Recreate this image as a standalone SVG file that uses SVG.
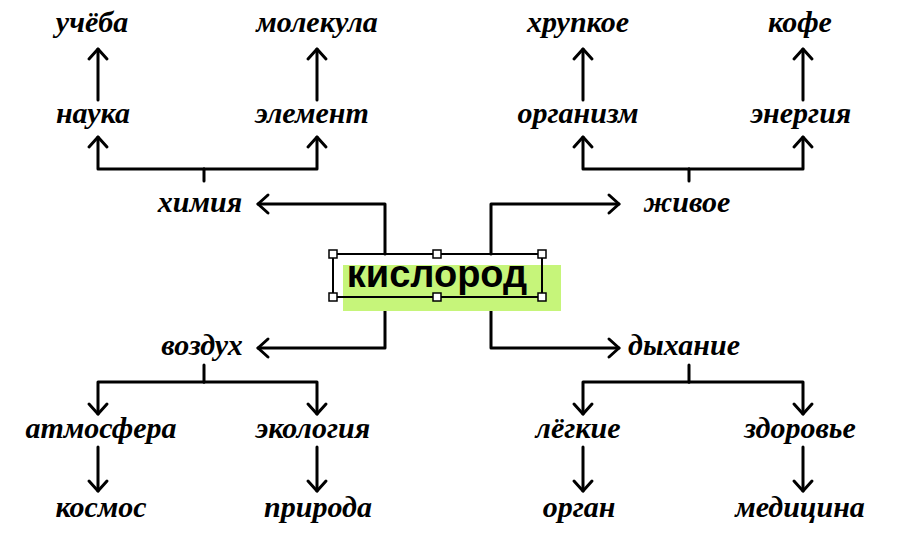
<svg xmlns="http://www.w3.org/2000/svg" width="900" height="552" viewBox="0 0 900 552">
<defs>
<marker id="ah" markerUnits="userSpaceOnUse" markerWidth="24" markerHeight="24" refX="0" refY="0" viewBox="-14 -12 16 24" orient="auto" overflow="visible">
<path d="M-10,-9 L0,0 L-10,9" fill="none" stroke="#000" stroke-width="3" stroke-linecap="round" stroke-linejoin="round"/>
</marker>
<style>
.lbl{font-family:"Liberation Serif","Times New Roman",serif;font-style:italic;font-weight:bold;font-size:30px;fill:#000;text-anchor:middle}
.c{fill:none;stroke:#000;stroke-width:3;stroke-linejoin:round;stroke-linecap:round}
.a{marker-end:url(#ah)}
.h{fill:#fff;stroke:#000;stroke-width:1.5}
</style>
</defs>
<rect width="900" height="552" fill="#fff"/>
<g id="connectors">
<path class="c a" d="M385,254 V204 H258"/>
<path class="c a" d="M491,254 V204 H619"/>
<path class="c a" d="M385,297 V348 H258"/>
<path class="c a" d="M491,297 V348 H619"/>
<path class="c" d="M204,181 V169"/>
<path class="c a" d="M204,169 H98 V137"/>
<path class="c a" d="M204,169 H317 V137"/>
<path class="c a" d="M98,100 V49"/>
<path class="c a" d="M317,100 V49"/>
<path class="c" d="M689,181 V169"/>
<path class="c a" d="M689,169 H583 V137"/>
<path class="c a" d="M689,169 H803 V137"/>
<path class="c a" d="M583,100 V49"/>
<path class="c a" d="M803,100 V49"/>
<path class="c" d="M204,365 V382"/>
<path class="c a" d="M204,382 H98 V414"/>
<path class="c a" d="M204,382 H317 V414"/>
<path class="c a" d="M98,447 V491"/>
<path class="c a" d="M317,447 V491"/>
<path class="c" d="M689,365 V382"/>
<path class="c a" d="M689,382 H583 V414"/>
<path class="c a" d="M689,382 H803 V414"/>
<path class="c a" d="M583,447 V491"/>
<path class="c a" d="M803,447 V491"/>
</g>
<g id="center">
<rect x="343" y="265" width="218" height="46" fill="#c6f57a"/>
<rect x="333" y="254" width="209" height="43" fill="none" stroke="#000" stroke-width="2"/>
<text x="437" y="287" font-family="'Liberation Sans',Arial,sans-serif" font-weight="bold" font-size="38" text-anchor="middle">кислород</text>
<rect class="h" x="329" y="250" width="8" height="8"/>
<rect class="h" x="433" y="250" width="8" height="8"/>
<rect class="h" x="538" y="250" width="8" height="8"/>
<rect class="h" x="329" y="293" width="8" height="8"/>
<rect class="h" x="433" y="293" width="8" height="8"/>
<rect class="h" x="538" y="293" width="8" height="8"/>
</g>
<g id="n-uchyoba"><text class="lbl" x="92" y="32">учёба</text></g>
<g id="n-molekula"><text class="lbl" x="317" y="32">молекула</text></g>
<g id="n-nauka"><text class="lbl" x="93" y="123">наука</text></g>
<g id="n-element"><text class="lbl" x="312" y="123">элемент</text></g>
<g id="n-himiya"><text class="lbl" x="200" y="212">химия</text></g>
<g id="n-hrupkoe"><text class="lbl" x="578" y="32">хрупкое</text></g>
<g id="n-kofe"><text class="lbl" x="800" y="32">кофе</text></g>
<g id="n-organizm"><text class="lbl" x="578" y="123">организм</text></g>
<g id="n-energiya"><text class="lbl" x="801" y="123">энергия</text></g>
<g id="n-zhivoe"><text class="lbl" x="687" y="212">живое</text></g>
<g id="n-vozduh"><text class="lbl" x="202" y="355">воздух</text></g>
<g id="n-atmosfera"><text class="lbl" x="101" y="438">атмосфера</text></g>
<g id="n-ekologiya"><text class="lbl" x="313" y="438">экология</text></g>
<g id="n-kosmos"><text class="lbl" x="101" y="517">космос</text></g>
<g id="n-priroda"><text class="lbl" x="318" y="517">природа</text></g>
<g id="n-dyhanie"><text class="lbl" x="684" y="355">дыхание</text></g>
<g id="n-lyogkie"><text class="lbl" x="578" y="438">лёгкие</text></g>
<g id="n-zdorovie"><text class="lbl" x="800" y="438">здоровье</text></g>
<g id="n-organ"><text class="lbl" x="579" y="517">орган</text></g>
<g id="n-medicina"><text class="lbl" x="800" y="517">медицина</text></g>
</svg>
